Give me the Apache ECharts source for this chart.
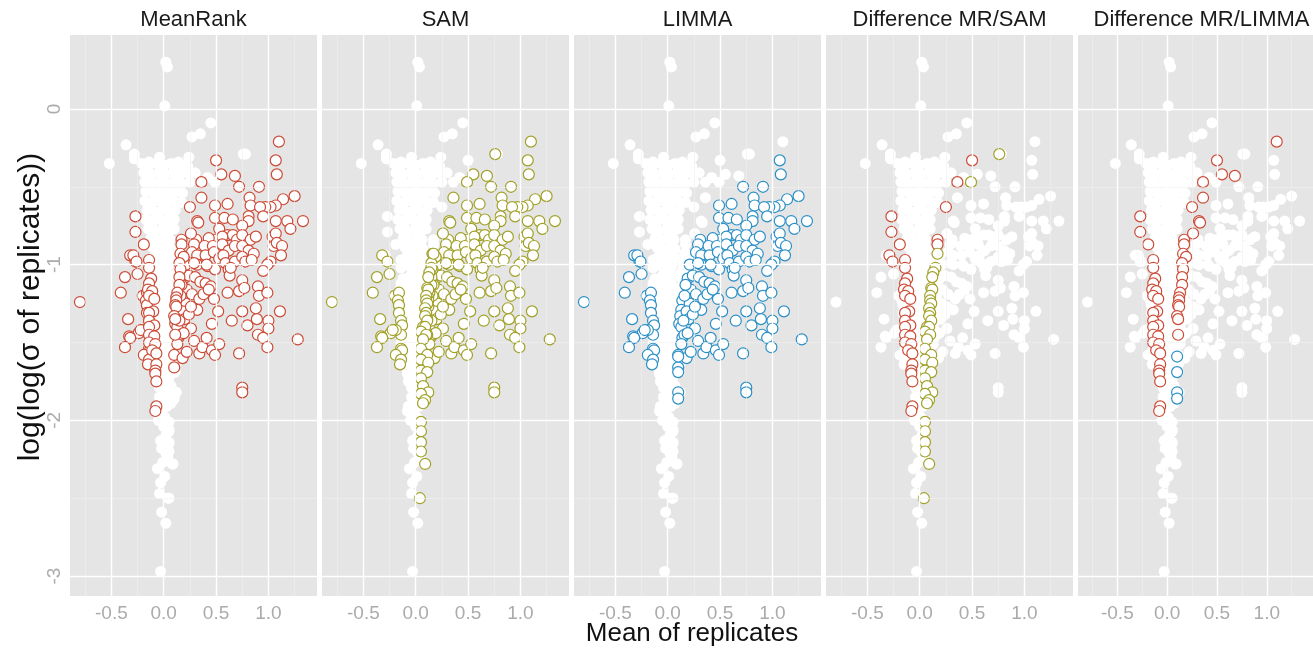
<!DOCTYPE html>
<html><head><meta charset="utf-8">
<script src="https://cdn.jsdelivr.net/npm/echarts@6/dist/echarts.min.js"></script>
<style>html,body{margin:0;padding:0;background:#fff;}#c{width:1313px;height:651px;}</style>
</head><body><div id="c"></div>
<script>
const panelTitles = ['MeanRank','SAM','LIMMA','Difference MR/SAM','Difference MR/LIMMA'];
const xTicks = [-0.5, 0, 0.5, 1.0];
const yTicks = [0, -1, -2, -3];
const xMinor = [-0.75, -0.25, 0.25, 0.75, 1.25];
const yMinor = [-0.5, -1.5, -2.5];

// genes not selected by any method
const bg = [
[0.02,0.30],[0.035,0.27],[0.01,0.02],[0.45,-0.09],[0.35,-0.16],[0.27,-0.18],[0.78,-0.29],[-0.36,-0.23],[-0.28,-0.29],[-0.28,-0.32],[-0.52,-0.35],[-0.14,-0.34],[-0.04,-0.31],[0.24,-0.31],[0.10,-0.39],[0.23,-0.37],[0.42,-0.44],[0.30,-0.41],
[-0.21,-0.35],[-0.14,-0.36],[-0.07,-0.35],[0.00,-0.36],[0.07,-0.35],[0.14,-0.34],[0.19,-0.36],
[-0.19,-0.41],[-0.12,-0.42],[-0.05,-0.41],[0.02,-0.42],[0.09,-0.41],[0.16,-0.42],[0.22,-0.41],
[-0.18,-0.47],[-0.11,-0.48],[-0.04,-0.47],[0.03,-0.48],[0.10,-0.47],[0.17,-0.48],[0.25,-0.47],
[-0.17,-0.53],[-0.10,-0.54],[-0.03,-0.53],[0.04,-0.54],[0.11,-0.53],[0.18,-0.54],
[-0.18,-0.59],[-0.11,-0.60],[-0.04,-0.59],[0.03,-0.60],[0.10,-0.59],[0.17,-0.60],
[-0.16,-0.65],[-0.09,-0.66],[-0.02,-0.65],[0.05,-0.66],[0.11,-0.65],
[-0.17,-0.71],[-0.10,-0.72],[-0.03,-0.71],[0.04,-0.72],[0.10,-0.71],
[-0.15,-0.77],[-0.08,-0.78],[-0.01,-0.77],[0.06,-0.78],[0.10,-0.77],
[-0.12,-0.83],[-0.06,-0.84],[0.00,-0.83],[0.06,-0.84],
[-0.10,-0.89],[-0.04,-0.90],[0.02,-0.89],[0.07,-0.90],
[-0.09,-0.95],[-0.03,-0.96],[0.03,-0.95],[0.07,-0.96],
[-0.06,-1.01],[-0.01,-1.02],[0.04,-1.01],
[-0.05,-1.07],[0.00,-1.08],[0.05,-1.07],
[-0.06,-1.13],[-0.01,-1.14],[0.04,-1.13],
[-0.05,-1.19],[0.00,-1.20],[0.05,-1.19],
[-0.05,-1.25],[0.00,-1.26],[0.04,-1.25],
[-0.05,-1.31],[-0.01,-1.32],[0.04,-1.31],
[-0.04,-1.37],[0.00,-1.38],[0.04,-1.37],
[-0.05,-1.43],[-0.01,-1.44],[0.03,-1.43],
[-0.04,-1.49],[0.00,-1.50],[0.03,-1.49],
[-0.04,-1.55],[0.00,-1.56],[0.03,-1.55],
[-0.04,-1.61],[0.00,-1.62],[0.03,-1.61],
[-0.04,-1.67],[0.00,-1.68],[0.03,-1.67],
[-0.04,-1.73],[0.00,-1.74],[0.03,-1.73],
[-0.04,-1.79],[0.00,-1.80],[0.03,-1.79],
[-0.04,-1.85],[0.00,-1.86],[0.03,-1.85],
[-0.04,-1.91],[0.00,-1.92],[0.03,-1.91],
[-0.03,-1.97],[0.01,-1.98],
[-0.05,-2.00],[0.00,-2.04],[0.05,-2.06],[0.02,-2.10],[-0.03,-2.13],[0.05,-2.15],[-0.02,-2.18],[0.02,-2.21],[0.04,-2.24],[-0.01,-2.27],[0.08,-2.28],[-0.06,-2.31],[0.01,-2.36],[-0.03,-2.40],[-0.04,-2.47],[0.05,-2.50],[-0.02,-2.59],[0.02,-2.66],[-0.03,-2.97]
];

// selected by MeanRank, SAM and LIMMA
const core = [
[1.07,-0.33],[1.08,-0.42],[0.72,-0.50],[0.91,-0.50],[0.82,-0.57],[0.83,-0.62],[1.25,-0.56],[1.14,-0.58],[1.07,-0.62],[1.02,-0.63],[0.97,-0.63],[0.92,-0.63],[0.95,-0.69],[0.49,-0.62],[0.61,-0.61],[0.49,-0.70],[0.58,-0.70],[0.66,-0.71],[0.81,-0.69],[0.81,-0.72],[0.75,-0.75],[1.07,-0.72],[1.18,-0.72],[1.33,-0.72],[1.21,-0.77],[0.53,-0.77],
[0.61,-0.81],[0.66,-0.81],[0.49,-0.84],[0.56,-0.82],[0.70,-0.84],[0.75,-0.81],[0.83,-0.84],[0.88,-0.82],
[1.04,-0.82],[1.07,-0.80],[1.05,-0.88],[1.08,-0.86],[1.13,-0.88],
[0.31,-0.84],[0.29,-0.87],[0.43,-0.83],[0.39,-0.88],[0.47,-0.88],[0.56,-0.87],
[0.62,-0.91],[0.68,-0.88],[0.75,-0.88],[0.81,-0.91],[0.86,-0.93],
[1.12,-0.94],[1.02,-0.98],[0.99,-1.00],[0.95,-1.04],
[0.27,-0.92],[0.32,-0.94],[0.40,-0.94],[0.48,-0.92],[0.53,-0.96],[0.57,-0.94],[0.59,-0.99],[0.68,-0.98],[0.75,-0.95],[0.78,-0.98],[0.84,-0.97],
[0.21,-1.00],[0.32,-1.00],[0.42,-1.01],[0.49,-1.03],[0.62,-1.03],[0.63,-1.07],[0.75,-1.10],
[0.29,-0.99],[0.41,-1.00],[0.64,-1.02],
[-0.32,-0.94],[-0.27,-0.98],[-0.37,-1.08],[-0.25,-1.06],[-0.41,-1.18],[-0.20,-1.20],[-0.16,-1.18],[-0.17,-1.23],[-0.16,-1.26],[-0.34,-1.35],[-0.16,-1.31],[-0.14,-1.36],[-0.13,-1.39],[-0.14,-1.45],[-0.19,-1.42],[-0.24,-1.44],[-0.22,-1.42],[-0.33,-1.46],[-0.32,-1.47],[-0.37,-1.53],[-0.14,-1.54],[-0.13,-1.55],[-0.19,-1.58],[-0.14,-1.61],[-0.15,-1.64],[-0.80,-1.24],
[0.14,-1.23],[0.13,-1.29],[0.12,-1.33],[0.11,-1.38],[0.13,-1.40],[0.14,-1.47],[0.16,-1.45],[0.10,-1.58],[0.18,-1.60],[0.22,-1.56],[0.29,-1.49],[0.34,-1.57],[0.37,-1.53],[0.41,-1.47],[0.46,-1.55],[0.49,-1.58],[0.53,-1.51],[0.72,-1.57],[0.75,-1.79],[0.75,-1.82],[0.10,-1.66],
[0.65,-1.36],[0.46,-1.38],[0.52,-1.30],[0.80,-1.39],[0.89,-1.35],[0.75,-1.30],[0.88,-1.28],[1.00,-1.36],[1.00,-1.41],[1.11,-1.30],[0.90,-1.45],[0.95,-1.47],[0.99,-1.53],[1.28,-1.48],
[0.72,-1.17],[0.77,-1.15],[0.90,-1.14],[0.91,-1.20],[0.99,-1.18],[0.61,-1.18],[0.48,-1.22],
[0.19,-1.09],[0.24,-1.07],[0.30,-1.08],[0.35,-1.11],[0.40,-1.12],[0.45,-1.14],[0.22,-1.16],[0.27,-1.19],[0.34,-1.22],[0.38,-1.19],[0.21,-1.25],[0.32,-1.29],[0.43,-1.16],
[0.17,-1.13],[0.16,-1.20],[0.18,-1.30],[0.20,-1.35],[0.24,-1.32],[0.26,-1.41],[0.15,-1.36],[0.13,-1.51],[0.19,-1.44],[0.26,-1.27]
];
// MeanRank only
const mrOnly = [
[0.50,-0.33],[0.36,-0.47],[0.25,-0.63],[0.17,-0.84],[0.17,-0.87],
[-0.27,-0.69],[-0.27,-0.79],[-0.19,-0.87],[-0.14,-0.97],[-0.14,-1.02],[-0.12,-1.09],[-0.14,-1.12],[-0.15,-1.16],[-0.11,-1.17],[-0.14,-1.20],[-0.09,-1.22],[-0.10,-1.30],[-0.14,-1.31],[-0.14,-1.36],[-0.09,-1.39],[-0.14,-1.40],[-0.14,-1.45],[-0.09,-1.46],[-0.14,-1.50],[-0.08,-1.51],[-0.11,-1.55],[-0.07,-1.57],[-0.07,-1.64],[-0.08,-1.68],[-0.08,-1.70],[-0.07,-1.75],[-0.07,-1.91],[-0.08,-1.94]
];
// MeanRank and SAM, not LIMMA
const mrSam = [
[1.10,-0.21],[0.55,-0.42],[0.68,-0.43],[0.36,-0.57],[0.32,-0.72],[0.33,-0.73],[0.26,-0.80],[0.16,-0.93],[0.19,-0.95],[0.15,-0.99],[0.16,-1.03],[0.15,-1.08],[0.15,-1.13],[0.13,-1.18],[0.12,-1.21],[0.12,-1.23],[0.11,-1.26],[0.12,-1.27],[0.10,-1.33],[0.11,-1.35],[0.11,-1.45]
];
// MeanRank and LIMMA, not SAM
const mrLimma = [[-0.29,-0.94],[-0.26,-0.98]];
// SAM only
const samOnly = [
[0.76,-0.29],[0.49,-0.47],[0.17,-0.93],[0.15,-1.02],[0.13,-1.05],[0.12,-1.08],[0.11,-1.15],[0.12,-1.16],[0.10,-1.20],[0.10,-1.23],[0.11,-1.25],[0.09,-1.28],[0.10,-1.31],[0.09,-1.33],[0.11,-1.36],[0.07,-1.40],[0.09,-1.40],[0.05,-1.43],[0.10,-1.45],[0.07,-1.48],[0.05,-1.54],[0.11,-1.58],[0.05,-1.61],[0.12,-1.63],[0.05,-1.68],[0.11,-1.69],[0.05,-1.73],[0.07,-1.78],[0.12,-1.82],[0.05,-1.83],[0.09,-1.87],[0.07,-1.89],[0.05,-2.01],[0.05,-2.07],[0.05,-2.14],[0.05,-2.20],[0.09,-2.28],[0.04,-2.50]
];
// LIMMA only
const limmaOnly = [[0.10,-1.59],[0.10,-1.69],[0.10,-1.82],[0.10,-1.86]];

const RED = '#CC4A36', OLIVE = '#A0A028', BLUE = '#2B8FC6';
const FONT = '"Liberation Sans", Arial, sans-serif';
const XMIN = -0.895, XMAX = 1.464, YMIN = -3.128, YMAX = 0.475;
const LEFTS = [70, 322, 574, 826, 1078], TOP = 35, W = 247, H = 561;
const SYM = 11;

const allPts = [].concat(bg, core, mrOnly, mrSam, mrLimma, samOnly, limmaOnly);
const panelSets = [
  [{data: [].concat(core, mrOnly, mrSam, mrLimma), color: RED}],
  [{data: [].concat(core, mrSam, samOnly), color: OLIVE}],
  [{data: [].concat(core, limmaOnly, mrLimma), color: BLUE}],
  [{data: [].concat(mrOnly, mrLimma), color: RED}, {data: samOnly, color: OLIVE}],
  [{data: [].concat(mrOnly, mrSam), color: RED}, {data: limmaOnly, color: BLUE}]
];

const grids = [], xAxes = [], yAxes = [], series = [], graphics = [];
LEFTS.forEach((L, i) => {
  grids.push({left: L, top: TOP, width: W, height: H, show: true, backgroundColor: '#E5E5E5', borderWidth: 0, containLabel: false});
  xAxes.push({gridIndex: i, type: 'value', min: XMIN, max: XMAX,
    axisLine: {show: false}, splitLine: {show: false},
    axisTick: {show: true, customValues: xTicks, length: 4, lineStyle: {color: '#8c8c8c', width: 1}},
    axisLabel: {customValues: xTicks, formatter: v => Number(v).toFixed(1), color: '#ABABAB', fontSize: 19, margin: 8, fontFamily: FONT}});
  yAxes.push({gridIndex: i, type: 'value', min: YMIN, max: YMAX,
    axisLine: {show: false}, splitLine: {show: false},
    axisTick: {show: i === 0, customValues: yTicks, length: 4, lineStyle: {color: '#8c8c8c', width: 1}},
    axisLabel: {show: i === 0, customValues: yTicks, rotate: 90, formatter: v => String(Math.round(v)), color: '#ABABAB', fontSize: 19, margin: 6, fontFamily: FONT}});
  const ml = [];
  xMinor.forEach(v => ml.push({xAxis: v, lineStyle: {color: '#F0F0F0', width: 0.6, type: 'solid'}}));
  yMinor.forEach(v => ml.push({yAxis: v, lineStyle: {color: '#F0F0F0', width: 0.6, type: 'solid'}}));
  xTicks.forEach(v => ml.push({xAxis: v, lineStyle: {color: '#FFFFFF', width: 1.4, type: 'solid'}}));
  yTicks.forEach(v => ml.push({yAxis: v, lineStyle: {color: '#FFFFFF', width: 1.4, type: 'solid'}}));
  series.push({type: 'scatter', xAxisIndex: i, yAxisIndex: i, data: [], z: 1, silent: true,
    markLine: {silent: true, symbol: ['none', 'none'], label: {show: false}, animation: false, data: ml}});
  series.push({type: 'scatter', xAxisIndex: i, yAxisIndex: i, data: allPts, z: 2, silent: true,
    symbol: 'circle', symbolSize: SYM, itemStyle: {color: '#FFFFFF', borderWidth: 0, opacity: 1}});
  panelSets[i].forEach((s, k) => {
    series.push({type: 'scatter', xAxisIndex: i, yAxisIndex: i, data: s.data, z: 3 + k, silent: true,
      symbol: 'circle', symbolSize: SYM, itemStyle: {color: '#FFFFFF', borderColor: s.color, borderWidth: 1.2, opacity: 1}});
  });
  graphics.push({type: 'text', x: L + W / 2, y: 20, silent: true,
    style: {text: panelTitles[i], fill: '#1A1A1A', font: '22px ' + FONT, textAlign: 'center', textVerticalAlign: 'middle', align: 'center', verticalAlign: 'middle'}});
});
graphics.push({type: 'text', x: 692, y: 634, silent: true,
  style: {text: 'Mean of replicates', fill: '#111', font: '26px ' + FONT, textAlign: 'center', textVerticalAlign: 'middle', align: 'center', verticalAlign: 'middle'}});
graphics.push({type: 'text', x: 31, y: 307, rotation: Math.PI / 2, silent: true,
  style: {text: 'log(log(σ of replicates))', fill: '#111', font: '30px ' + FONT, textAlign: 'center', textVerticalAlign: 'middle', align: 'center', verticalAlign: 'middle'}});

const chart = echarts.init(document.getElementById('c'), null, {renderer: 'canvas'});
chart.setOption({animation: false, backgroundColor: '#FFFFFF', grid: grids, xAxis: xAxes, yAxis: yAxes, series: series, graphic: graphics});
</script></body></html>
